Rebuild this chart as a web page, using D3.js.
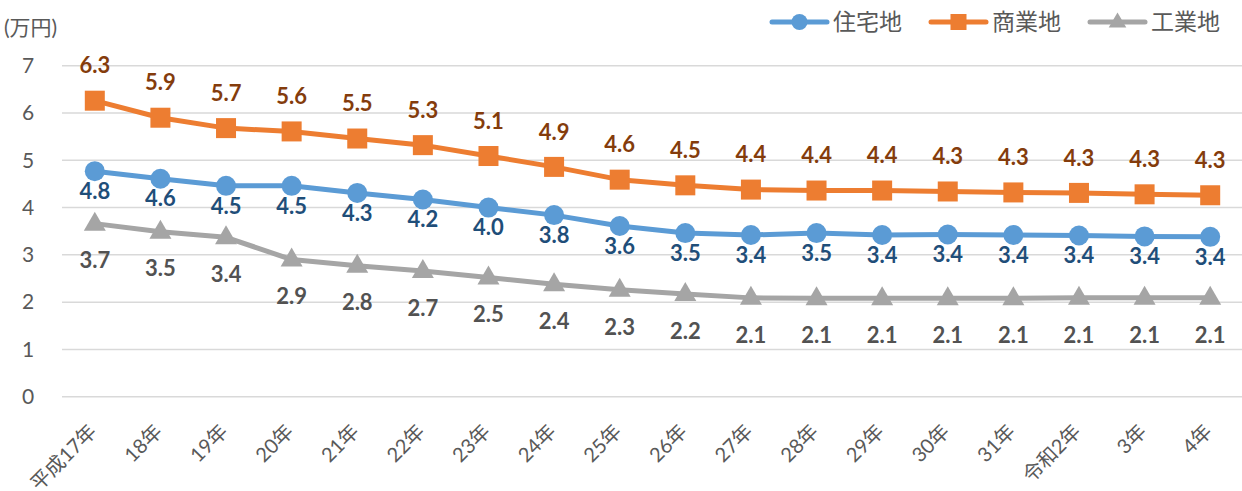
<!DOCTYPE html>
<html><head><meta charset="utf-8">
<script src="https://cdn.jsdelivr.net/npm/d3@7"></script>
<style>
body{margin:0;background:#fff;}
svg{display:block;}
text{font-family:Lato,"Noto Sans CJK JP",sans-serif;}
</style></head>
<body><svg id="c" width="1242" height="491"></svg>
<script>
const categories = ["平成17年","18年","19年","20年","21年","22年","23年","24年","25年","26年","27年","28年","29年","30年","31年","令和2年","3年","4年"];
const residential = [4.77,4.61,4.46,4.46,4.31,4.17,4.00,3.84,3.61,3.46,3.42,3.46,3.42,3.43,3.42,3.41,3.39,3.38];
const commercial = [6.26,5.90,5.68,5.61,5.46,5.32,5.09,4.86,4.59,4.47,4.38,4.36,4.36,4.34,4.32,4.31,4.28,4.26];
const industrial = [3.66,3.49,3.37,2.90,2.77,2.66,2.52,2.38,2.26,2.17,2.09,2.08,2.08,2.08,2.08,2.09,2.09,2.09];
const seriesNames = ["住宅地","商業地","工業地"];
const yTicks = [0,1,2,3,4,5,6,7];
const yUnit = "(万円)";

const svg = d3.select("#c");
const x = d3.scaleBand().domain(categories).range([62,1243]);
const y = d3.scaleLinear().domain([0,7]).range([396.7,65.7]);
const cx = d => x(d) + x.bandwidth()/2;

// gridlines
svg.append("g").selectAll("line").data(yTicks).join("line")
  .attr("x1",62).attr("x2",1242).attr("y1",d=>y(d)).attr("y2",d=>y(d))
  .attr("stroke","#d9d9d9").attr("stroke-width",1.5);
// y labels
svg.append("g").selectAll("text").data(yTicks).join("text")
  .attr("x",28).attr("y",d=>y(d)).attr("dy","0.35em").attr("text-anchor","middle")
  .attr("fill","#595959").attr("font-size",21).text(d=>d);
svg.append("text").attr("x",4).attr("y",35).attr("fill","#595959").attr("font-size",21)
  .attr("font-family","'Noto Sans CJK JP'").text(yUnit);
// x labels
svg.append("g").selectAll("text").data(categories).join("text")
  .attr("transform",d=>`translate(${cx(d)-2},${428}) rotate(-45)`)
  .attr("text-anchor","end").attr("dy","0.35em")
  .attr("fill","#595959").attr("font-size",20).text(d=>d);

const series = [
  {name:seriesNames[0], vals:residential, color:"#5b9bd5", label:"#1f4e79", shape:"circle", off:20},
  {name:seriesNames[1], vals:commercial, color:"#ed7d31", label:"#843c0c", shape:"square", off:-35},
  {name:seriesNames[2], vals:industrial, color:"#a5a5a5", label:"#525252", shape:"triangle", off:37},
];
const line = d3.line().x((d,i)=>cx(categories[i])).y(d=>y(d));
function marker(g, shape, color, px, py, s){
  if(shape==="circle") g.append("circle").attr("cx",px).attr("cy",py).attr("r",10*s).attr("fill",color);
  else if(shape==="square") g.append("rect").attr("x",px-10*s).attr("y",py-10*s).attr("width",20*s).attr("height",20*s).attr("fill",color);
  else g.append("path").attr("d",`M${px},${py-12*s}L${px+11*s},${py+7*s}L${px-11*s},${py+7*s}Z`).attr("fill",color);
}
series.forEach(s=>{
  const g = svg.append("g");
  g.append("path").datum(s.vals).attr("d",line).attr("fill","none")
    .attr("stroke",s.color).attr("stroke-width",5).attr("stroke-linejoin","round");
  s.vals.forEach((v,i)=>marker(g,s.shape,s.color,cx(categories[i]),y(v),1));
  g.selectAll("text").data(s.vals).join("text")
    .attr("x",(d,i)=>cx(categories[i])).attr("y",d=>y(d)+s.off).attr("dy","0.35em")
    .attr("text-anchor","middle").attr("font-weight","bold").attr("font-size",22)
    .attr("fill",s.label).text(d=>d3.format(".1f")(d));
});
// legend
const legX = [772,931,1090];
series.forEach((s,i)=>{
  const g = svg.append("g");
  g.append("line").attr("x1",legX[i]).attr("x2",legX[i]+55).attr("y1",22).attr("y2",22)
    .attr("stroke",s.color).attr("stroke-width",5).attr("stroke-linecap","round");
  marker(g,s.shape,s.color,legX[i]+27.5,22,0.8);
  g.append("text").attr("x",legX[i]+61).attr("y",22).attr("dy","0.35em")
    .attr("font-family","'Noto Sans CJK JP'").attr("font-size",23).attr("fill","#595959").text(s.name);
});
</script></body></html>
